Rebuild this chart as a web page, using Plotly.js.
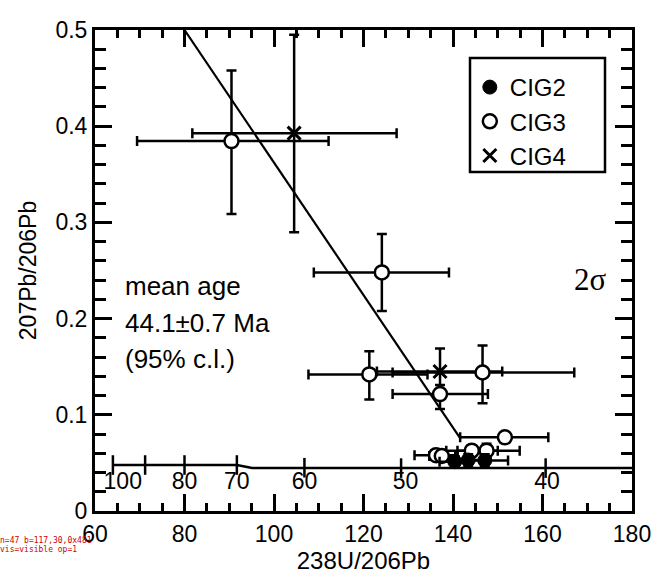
<!DOCTYPE html>
<html>
<head>
<meta charset="utf-8">
<script src="https://cdn.plot.ly/plotly-3.0.1.min.js"></script>
<style>
html,body{margin:0;padding:0;background:#fff;}
#chart{width:655px;height:574px;}
#dbg{position:absolute;left:0;top:536px;width:92px;font:8px monospace;color:#c00;white-space:pre-wrap;word-break:break-all;line-height:9px}
</style>
</head>
<body>
<div id="chart"></div>
<div id="dbg"></div>
<script>
// ---- data ----
// CIG2 (filled circles)
const cig2X   = [140.4, 143.4, 147.1];
const cig2Y   = [0.0513, 0.0530, 0.0525];
const cig2XLo = [137.0, 139.5, 143.5];
const cig2XHi = [144.0, 148.0, 152.3];
const cig2YLo = [0.046, 0.047, 0.046];
const cig2YHi = [0.057, 0.059, 0.059];

// CIG3 (open circles)
const cig3X   = [90.5, 124.1, 121.3, 146.6, 137.1, 151.6, 144.2, 147.5, 136.2, 137.5];
const cig3Y   = [0.3845, 0.248, 0.142, 0.144, 0.1215, 0.0766, 0.0627, 0.0627, 0.058, 0.0572];
const cig3XLo = [69.4, 108.9, 107.7, 126.5, 126.5, 141.6, 138.5, 141.0, 131.4, 134.7];
const cig3XHi = [112.2, 139.1, 134.3, 167.1, 147.8, 161.3, 150.0, 154.9, 141.0, 140.5];
const cig3YLo = [0.3087, 0.208, 0.116, 0.112, 0.106, 0.072, 0.057, 0.055, 0.054, 0.053];
const cig3YHi = [0.458, 0.288, 0.166, 0.172, 0.131, 0.081, 0.068, 0.070, 0.062, 0.061];

// CIG4 (crosses)
const cig4X   = [104.5, 137.1];
const cig4Y   = [0.3928, 0.145];
const cig4XLo = [81.75, 123.0];
const cig4XHi = [127.4, 151.0];
const cig4YLo = [0.2898, 0.121];
const cig4YHi = [0.495, 0.169];

// discordia line end points
const discX = [80.0, 141.7];
const discY = [0.5, 0.075];

// concordia curve (as drawn)
const concX = [64.0, 91.7, 95.1, 180.0];
const concY = [0.0478, 0.0478, 0.0446, 0.0446];

// concordia age ticks (Ma) and their positions
const ageLabels = ['100', '90', '80', '70', '60', '50', '40'];
const ageX      = [64.0, 71.2, 80.0, 91.7, 106.8, 128.4, 160.7];
const ageY      = [0.0478, 0.0478, 0.0478, 0.0478, 0.0450, 0.0446, 0.0446];
const ageTextShown = ['100', '80', '70', '60', '50', '40'];
const ageTextX  = [66.2, 80.0, 91.7, 106.8, 129.4, 161.0];
const ageTextY  = 0.029;

// ---- helpers ----
const plus  = (c, hi) => hi.map((v, i) => v - c[i]);
const minus = (c, lo) => c.map((v, i) => v - lo[i]);
const FONT = 'Liberation Sans, Arial, sans-serif';
const errStyle = {thickness: 2.5, width: 5, color: '#000'};
function errBar(c, lo, hi){ return Object.assign({type:'data', symmetric:false, array: plus(c,hi), arrayminus: minus(c,lo)}, errStyle); }

const traces = [
  {x: concX, y: concY, mode:'lines', line:{color:'#000', width:2.5}, showlegend:false, hoverinfo:'skip'},
  {x: ageX, y: ageY, mode:'markers', marker:{symbol:'line-ns', size:14, line:{color:'#000', width:2.5}}, showlegend:false, hoverinfo:'skip'},
  {x: ageTextX, y: ageTextX.map(() => ageTextY), mode:'text', text: ageTextShown, textposition:'middle center',
   textfont:{family:FONT, size:23, color:'#000'}, showlegend:false, hoverinfo:'skip'},
  {x: discX, y: discY, mode:'lines', line:{color:'#000', width:2.2}, showlegend:false, hoverinfo:'skip'},
  {x: cig4X, y: cig4Y, name:'CIG4', mode:'markers', type:'scatter',
   marker:{symbol:'x-thin-open', size:13, color:'#000', line:{color:'#000', width:3}},
   error_x: errBar(cig4X, cig4XLo, cig4XHi), error_y: errBar(cig4Y, cig4YLo, cig4YHi)},
  {x: cig3X, y: cig3Y, name:'CIG3', mode:'markers', type:'scatter',
   marker:{symbol:'circle', size:14, color:'#fff', line:{color:'#000', width:2.5}},
   error_x: errBar(cig3X, cig3XLo, cig3XHi), error_y: errBar(cig3Y, cig3YLo, cig3YHi)},
  {x: cig2X, y: cig2Y, name:'CIG2', mode:'markers', type:'scatter',
   marker:{symbol:'circle', size:14, color:'#000', line:{color:'#000', width:1}},
   error_x: errBar(cig2X, cig2XLo, cig2XHi), error_y: errBar(cig2Y, cig2YLo, cig2YHi)}
];

const layout = {
  width: 655, height: 574,
  margin: {l:95, r:23, t:30, b:63},
  paper_bgcolor:'#fff', plot_bgcolor:'#fff',
  font: {family: FONT, size: 23, color:'#000'},
  showlegend: true,
  legend: {
    x: 0.698, y: (511-65)/481, xanchor:'left', yanchor:'top',
    bgcolor:'rgba(0,0,0,0)', borderwidth:0,
    font:{family:FONT, size:24, color:'#000'},
    traceorder:'reversed', itemwidth:30
  },
  xaxis: {
    range:[60,180], dtick:20,
    ticks:'inside', ticklen:17, tickwidth:2.5, tickcolor:'#000',
    minor:{dtick:5, ticks:'inside', ticklen:8, tickwidth:2.5, tickcolor:'#000'},
    showline:true, linewidth:3, linecolor:'#000', mirror:'allticks',
    showgrid:false, zeroline:false,
    tickfont:{family:FONT, size:23, color:'#000'},
    title:{text:'238U/206Pb', font:{family:FONT, size:24, color:'#000'}, standoff:13}
  },
  yaxis: {
    range:[0,0.5], dtick:0.1,
    ticks:'inside', ticklen:17, tickwidth:2.5, tickcolor:'#000',
    minor:{dtick:0.02, ticks:'inside', ticklen:11, tickwidth:2.5, tickcolor:'#000'},
    showline:true, linewidth:3, linecolor:'#000', mirror:'allticks',
    showgrid:false, zeroline:false,
    tickfont:{family:FONT, size:23, color:'#000'},
    title:{text:'207Pb/206Pb', font:{family:FONT, size:23, color:'#000'}, standoff:13}
  },
  shapes: [
    {type:'rect', xref:'paper', yref:'paper',
     x0:(470-95)/537, x1:(605-95)/537, y0:(511-172)/481, y1:(511-58)/481,
     line:{color:'#000', width:2.5}, fillcolor:'#fff', layer:'above'}
  ],
  annotations: [
    {xref:'paper', yref:'paper', x:(123-95)/537, y:(511-286)/481, xanchor:'left', yanchor:'middle',
     text:'mean age', showarrow:false, font:{family:FONT, size:26, color:'#000'}},
    {xref:'paper', yref:'paper', x:(123-95)/537, y:(511-322.5)/481, xanchor:'left', yanchor:'middle',
     text:'44.1±0.7 Ma', showarrow:false, font:{family:FONT, size:26, color:'#000'}},
    {xref:'paper', yref:'paper', x:(123-95)/537, y:(511-359)/481, xanchor:'left', yanchor:'middle',
     text:'(95% c.l.)', showarrow:false, font:{family:FONT, size:26, color:'#000'}},
    {xref:'paper', yref:'paper', x:(590-95)/537, y:(511-279)/481, xanchor:'center', yanchor:'middle',
     text:'2σ', showarrow:false, font:{family:'Liberation Serif, Times New Roman, serif', size:31, color:'#000'}}
  ]
};

Plotly.newPlot('chart', traces, layout, {displayModeBar:false}).then(() => {
  const t = document.querySelectorAll('path.ticks');
  let s = 'n=' + t.length;
  if (t.length) {
    const b = t[0].getBoundingClientRect();
    s += ' b=' + Math.round(b.x) + ',' + Math.round(b.y) + ',' + Math.round(b.width) + 'x' + Math.round(b.height);
    s += ' vis=' + getComputedStyle(t[0]).visibility + ' op=' + getComputedStyle(t[0]).opacity;
  }
  document.getElementById('dbg').textContent = s;
}).catch(e => { document.getElementById('dbg').textContent = 'E ' + e; });
</script>
</body>
</html>
